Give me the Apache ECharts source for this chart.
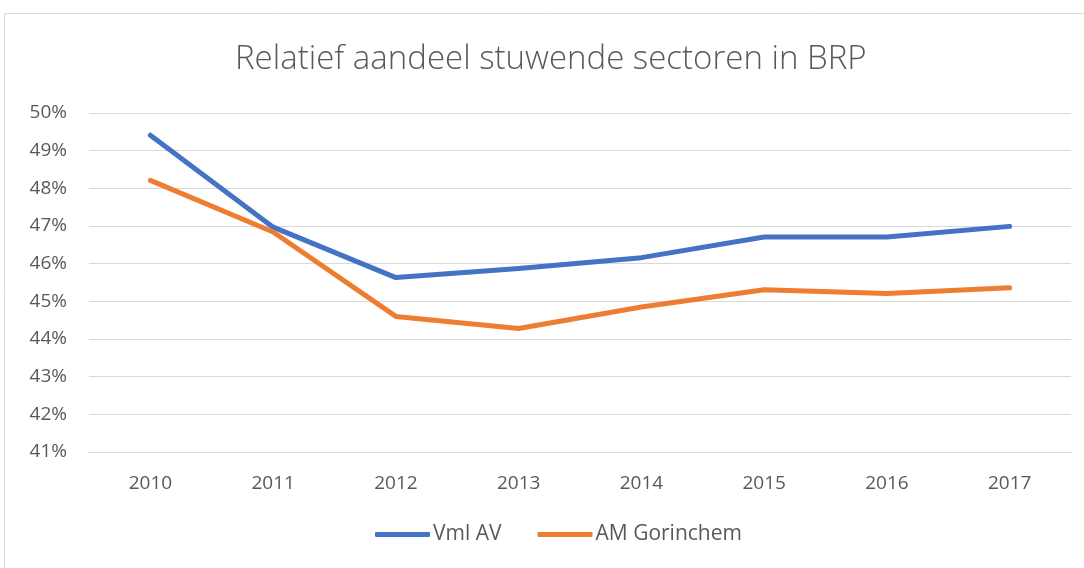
<!DOCTYPE html>
<html>
<head>
<meta charset="utf-8">
<script src="https://cdn.jsdelivr.net/npm/echarts@6/dist/echarts.min.js"></script>
<style>
  html, body { margin: 0; padding: 0; background: #fff; }
  #chart { width: 1084px; height: 568px; }
</style>
</head>
<body>
<div id="chart"></div>
<script>
// jaren en aandelen (in %)
const years = ['2010', '2011', '2012', '2013', '2014', '2015', '2016', '2017'];
const vmlAV = [49.41, 46.97, 45.63, 45.87, 46.16, 46.71, 46.71, 46.99];
const amGorinchem = [48.21, 46.84, 44.60, 44.28, 44.85, 45.31, 45.21, 45.36];
const seriesNames = ['Vml AV', 'AM Gorinchem'];

const textColor = '#595959';
const fontFamily = '"Open Sans", "Noto Sans", sans-serif';

let chart = echarts.init(document.getElementById('chart'));

let option = {
  animation: false,
  graphic: [{
    type: 'rect',
    shape: {x: 4.5, y: 13.5, width: 1100, height: 600},
    style: {fill: 'none', stroke: '#d9d9d9', lineWidth: 1},
    silent: true,
    z: -1
  }],
  title: {
    text: 'Relatief aandeel stuwende sectoren in BRP',
    left: 230,
    top: 38,
    textStyle: {
      color: textColor,
      fontSize: 33,
      fontWeight: 300,
      fontFamily: fontFamily,
    },
  },
  legend: {
    bottom: 18,
    left: 370,
    itemWidth: 55,
    itemHeight: 5,
    itemGap: 36,
    icon: 'roundRect',
    textStyle: {color: textColor, fontSize: 21, fontFamily: fontFamily, padding: [0, 0, 0, -2]},
    data: seriesNames,
  },
  grid: {
    left: 89,
    right: 13,
    top: 113,
    bottom: 116,
  },
  xAxis: {
    type: 'category',
    boundaryGap: true,
    data: years,
    axisLine: {show: true, lineStyle: {color: '#d9d9d9', width: 1}},
    axisTick: {show: false},
    axisLabel: {color: textColor, fontSize: 19, fontFamily: fontFamily, margin: 22},
  },
  yAxis: {
    type: 'value',
    min: 41,
    max: 50,
    interval: 1,
    axisLine: {show: false},
    axisTick: {show: false},
    axisLabel: {color: textColor, fontSize: 19, fontFamily: fontFamily, margin: 22, formatter: '{value}%'},
    splitLine: {lineStyle: {color: '#d9d9d9', width: 1}},
  },
  series: [
    {
      name: seriesNames[0],
      type: 'line',
      data: vmlAV,
      symbol: 'none',
      lineStyle: {color: '#4472C4', width: 5, cap: 'round', join: 'round'},
      itemStyle: {color: '#4472C4'},
    },
    {
      name: seriesNames[1],
      type: 'line',
      data: amGorinchem,
      symbol: 'none',
      lineStyle: {color: '#ED7D31', width: 5, cap: 'round', join: 'round'},
      itemStyle: {color: '#ED7D31'},
    },
  ]
};

chart.setOption(option);
</script>
</body>
</html>
